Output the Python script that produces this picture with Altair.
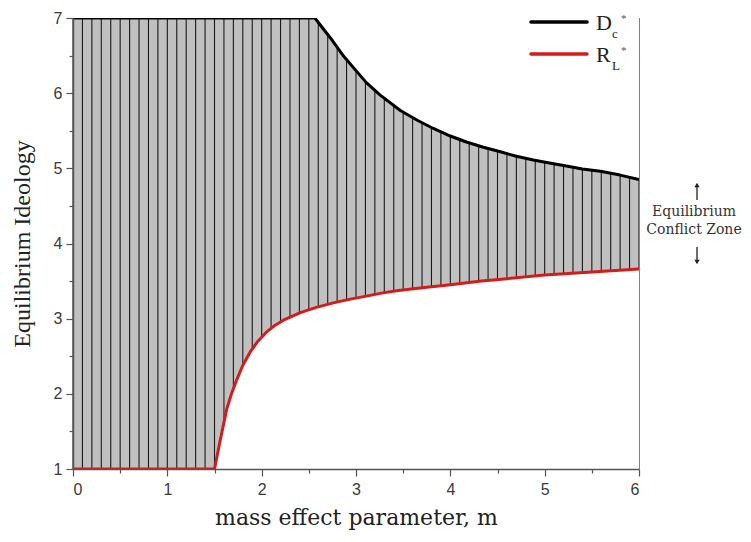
import altair as alt
import pandas as pd

# ---- data ----
M_D = [0.0, 2.565, 2.65, 2.75, 2.87, 3.0, 3.11, 3.25, 3.47, 3.65, 3.82, 4.0, 4.17, 4.35,
       4.53, 4.7, 4.88, 5.05, 5.23, 5.4, 5.59, 5.8, 6.0]
V_D = [7.0, 7.0, 6.86, 6.70, 6.49, 6.30, 6.14, 5.98, 5.77, 5.64, 5.53, 5.43, 5.35, 5.28,
       5.22, 5.16, 5.11, 5.07, 5.03, 4.99, 4.96, 4.91, 4.85]

M_R = [0.0, 1.5, 1.56, 1.63, 1.68, 1.74, 1.80, 1.88, 1.96, 2.05, 2.14, 2.23, 2.32, 2.41,
       2.58, 2.76, 2.94, 3.11, 3.27, 3.43, 3.7, 4.0, 4.33, 4.67, 5.0, 5.5, 6.0]
V_R = [1.0, 1.0, 1.38, 1.80, 2.00, 2.20, 2.38, 2.56, 2.70, 2.82, 2.91, 2.98, 3.03, 3.08,
       3.15, 3.21, 3.26, 3.30, 3.34, 3.37, 3.41, 3.45, 3.50, 3.54, 3.58, 3.62, 3.66]

HATCH_M = [round(i / 10, 1) for i in range(61)]

X_MAJOR = [0, 1, 2, 3, 4, 5, 6]
X_MINOR = [0.5, 1.5, 2.5, 3.5, 4.5, 5.5]
Y_MAJOR = [1, 2, 3, 4, 5, 6, 7]
Y_MINOR = [1.5, 2.5, 3.5, 4.5, 5.5, 6.5]
X_DOMAIN = [0, 6]
Y_DOMAIN = [1, 7]

X_TITLE = "mass effect parameter, m"
Y_TITLE = "Equilibrium Ideology"
ANNOT = ["Equilibrium", "Conflict Zone"]
LEG_MAIN = ["D", "R"]
LEG_SUB = ["c", "L"]
LEG_COLORS = ["#000000", "#d41c1c"]

W, H = 566, 451
TOP = 10  # plot top at page y = 8 + TOP

xs = alt.Scale(domain=X_DOMAIN, nice=False, zero=False)
ys = alt.Scale(domain=Y_DOMAIN, nice=False, zero=False)

axis_common = dict(domainColor="#555555", tickColor="#555555", domainWidth=1.5,
                   tickWidth=1.2, labelFont="Liberation Sans", labelFontSize=16,
                   labelColor="#3a3a3a", grid=False, zindex=1)

x_major = alt.Axis(values=X_MAJOR, tickSize=7, labelPadding=5, title=X_TITLE,
                   titleFont="DejaVu Serif", titleFontSize=22, titleFontWeight="normal",
                   titleColor="#222222", titlePadding=10, format="d", orient="bottom", **axis_common)
x_minor = alt.Axis(values=X_MINOR, tickSize=4, labels=False, domain=False, title=None,
                   orient="bottom", grid=False, tickColor="#555555", tickWidth=1.2, zindex=1)
y_major = alt.Axis(values=Y_MAJOR, tickSize=7, labelPadding=4, title=Y_TITLE,
                   titleFont="Liberation Serif", titleFontSize=24, titleFontWeight="normal",
                   titleColor="#222222", titlePadding=19, format="d", orient="left", **axis_common)
y_minor = alt.Axis(values=Y_MINOR, tickSize=4, labels=False, domain=False, title=None,
                   orient="left", grid=False, tickColor="#555555", tickWidth=1.2, zindex=1)

df_bg = pd.DataFrame({"x": [X_DOMAIN[0]], "x2": [X_DOMAIN[1]], "y": [Y_DOMAIN[0]], "y2": [Y_DOMAIN[1]]})
df_h = pd.DataFrame({"m": HATCH_M, "lo": Y_DOMAIN[0], "hi": Y_DOMAIN[1]})
df_d = pd.DataFrame({"m": M_D, "v": V_D, "top": Y_DOMAIN[1]})
df_r = pd.DataFrame({"m": M_R, "v": V_R, "bot": Y_DOMAIN[0]})

bg = alt.Chart(df_bg).mark_rect(color="#c0c0c0").encode(
    x=alt.X("x:Q", scale=xs, axis=x_major), x2="x2",
    y=alt.Y("y:Q", scale=ys, axis=y_major), y2="y2")

hatch = alt.Chart(df_h).mark_rule(color="#1a1a1a", strokeWidth=1.1).encode(
    x=alt.X("m:Q", scale=xs, axis=x_minor),
    y=alt.Y("lo:Q", scale=ys, axis=y_minor), y2="hi")

mask_top = alt.Chart(df_d).mark_area(color="white", interpolate="linear").encode(
    x=alt.X("m:Q", scale=xs, axis=None), y=alt.Y("v:Q", scale=ys, axis=None), y2="top")
mask_bot = alt.Chart(df_r).mark_area(color="white", interpolate="linear").encode(
    x=alt.X("m:Q", scale=xs, axis=None), y=alt.Y("v:Q", scale=ys, axis=None), y2="bot")

line_d = alt.Chart(df_d).mark_line(color=LEG_COLORS[0], strokeWidth=3, clip=True,
                                   strokeJoin="round").encode(
    x=alt.X("m:Q", scale=xs, axis=None), y=alt.Y("v:Q", scale=ys, axis=None))
line_r = alt.Chart(df_r).mark_line(color=LEG_COLORS[1], strokeWidth=3, clip=True,
                                   strokeJoin="round").encode(
    x=alt.X("m:Q", scale=xs, axis=None), y=alt.Y("v:Q", scale=ys, axis=None))

# ---- manual legend (pixel offsets relative to plot top) ----
legend_layers = []
for i, (mn, sb, col) in enumerate(zip(LEG_MAIN, LEG_SUB, LEG_COLORS)):
    d = pd.DataFrame({"main": [mn], "sub": [sb], "star": ["*"]})
    oy = 32 * i
    legend_layers.append(alt.Chart(d).mark_rule(color=col, strokeWidth=3.5, strokeCap="round").encode(
        x=alt.value(458), x2=alt.value(514), y=alt.value(4 + oy)))
    legend_layers.append(alt.Chart(d).mark_text(font="Liberation Serif", fontSize=22, align="left",
                                                baseline="alphabetic", color="#222222").encode(
        text="main:N", x=alt.value(523), y=alt.value(12 + oy)))
    legend_layers.append(alt.Chart(d).mark_text(font="Liberation Serif", fontSize=13, align="left",
                                                baseline="alphabetic", color="#222222").encode(
        text="sub:N", x=alt.value(539), y=alt.value(20 + oy)))
    legend_layers.append(alt.Chart(d).mark_text(font="Liberation Serif", fontSize=11, align="left",
                                                baseline="alphabetic", color="#555555").encode(
        text="star:N", x=alt.value(548), y=alt.value(4 + oy)))

# ---- annotation ----
ann_df = pd.DataFrame({"t": ANNOT, "py": [194, 212]})
ann_text = alt.Chart(ann_df).mark_text(font="DejaVu Serif", fontSize=14, align="center",
                                       baseline="middle", color="#333333").encode(
    text="t:N", x=alt.value(621), y=alt.Y("py:Q", scale=None))
arr_df = pd.DataFrame({"a": ["up", "down"]})
arrow_up = alt.Chart(arr_df.iloc[[0]]).mark_rule(color="#222222", strokeWidth=1.3).encode(
    x=alt.value(624), y=alt.value(167), y2=alt.value(182))
head_up = alt.Chart(arr_df.iloc[[0]]).mark_point(shape="triangle-up", filled=True, size=28,
                                                 color="#222222", opacity=1).encode(
    x=alt.value(624), y=alt.value(167))
arrow_dn = alt.Chart(arr_df.iloc[[1]]).mark_rule(color="#222222", strokeWidth=1.3).encode(
    x=alt.value(624), y=alt.value(229), y2=alt.value(244))
head_dn = alt.Chart(arr_df.iloc[[1]]).mark_point(shape="triangle-down", filled=True, size=28,
                                                 color="#222222", opacity=1).encode(
    x=alt.value(624), y=alt.value(244))

chart = alt.layer(
    bg, hatch, mask_top, mask_bot, line_d, line_r, *legend_layers,
    ann_text, arrow_up, head_up, arrow_dn, head_dn
).resolve_axis(x="independent", y="independent").properties(
    width=W, height=H,
    autosize=alt.AutoSizeParams(type="none"),
    padding={"left": 65, "top": TOP, "right": 104, "bottom": 62},
    background="white",
).configure_view(stroke=None)

chart.save("out.html", embed_options={"renderer": "svg", "actions": False})
